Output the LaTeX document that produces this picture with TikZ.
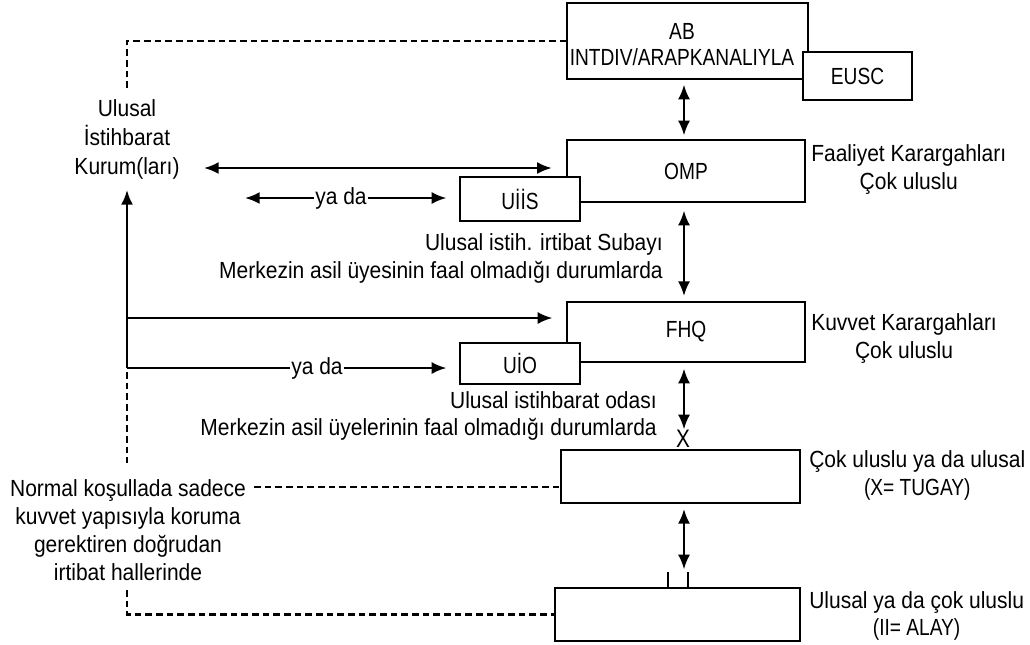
\documentclass[tikz,border=0pt]{standalone}
\usepackage{fontspec}
\setmainfont[FakeStretch=0.9]{Liberation Sans}
\newfontfamily\capsfont[FakeStretch=0.82]{Liberation Sans}
\usetikzlibrary{arrows.meta}
\begin{document}
\begin{tikzpicture}[x=0.75pt,y=-0.75pt,
  font=\fontsize{17.5}{20.5}\selectfont,
  box/.style={draw, fill=white, line width=0.9pt, inner sep=0pt, font=\capsfont\fontsize{17.5}{20.5}\selectfont},
  txt/.style={inner sep=0pt, align=center},
  captxt/.style={inner sep=0pt, align=center, font=\capsfont\fontsize{17.5}{19.5}\selectfont},
  ln/.style={line width=1.7pt},
  tip/.style={-{Latex[length=11pt,width=9pt]}},
  dbltip/.style={{Latex[length=11pt,width=9pt]}-{Latex[length=11pt,width=9pt]}},
  dsh/.style={line width=1.6pt, dash pattern=on 5pt off 3pt},
  tick/.style={line width=1.6pt}]
\useasboundingbox (0,0) rectangle (1030,644);
\path[fill=white] (0,0) rectangle (1030,644);

% boxes
\node[box, minimum width=180.75pt, minimum height=57pt] (ab) at (687.5,41) {};
\node[captxt] (abt) at (682,45) {AB\\INTDIV/ARAPKANALIYLA};
\node[box, minimum width=81.75pt, minimum height=36pt] (eusc) at (857.5,76) {EUSC};
\node[box, minimum width=178.5pt, minimum height=46.5pt] (omp) at (686,171) {OMP};
\node[box, minimum width=90pt, minimum height=33pt] (uiis) at (520,199) {UİİS};
\node[box, minimum width=178.5pt, minimum height=45pt] (fhq) at (686,332) {FHQ};
\node[box, minimum width=90pt, minimum height=30.75pt] (uio) at (520,363.5) {UİO};
\node[box, minimum width=179.25pt, minimum height=39.75pt] (cu) at (680.5,476.5) {};
\node[box, minimum width=183.75pt, minimum height=39.75pt] (bt) at (677.5,614.5) {};

% right labels
\node[txt, anchor=west] (l1) at (811,169.5) {Faaliyet Karargahları\\Çok uluslu};
\node[txt, anchor=west] (l2) at (811,338.5) {Kuvvet Karargahları\\Çok uluslu};
\node[txt, anchor=west] (l3) at (809,475.5) {Çok uluslu ya da ulusal\\{\capsfont(X= TUGAY)}};
\node[txt, anchor=west] (l4) at (809,616) {Ulusal ya da çok uluslu\\{\capsfont(II= ALAY)}};

% left labels
\node[txt, font=\fontsize{17.5}{21.75}\selectfont] (nik) at (127,139) {Ulusal\\İstihbarat\\Kurum(ları)};
\node[txt, font=\fontsize{17.5}{21}\selectfont] (nor) at (128,530) {Normal koşullada sadece\\kuvvet yapısıyla koruma\\gerektiren doğrudan\\irtibat hallerinde};

% centre labels
\node[txt, align=right, anchor=east] (ct1) at (663,258.5) {Ulusal istih. irtibat Subayı\\Merkezin asil üyesinin faal olmadığı durumlarda};
\node[txt, align=right, anchor=east] (ct2) at (657,416) {Ulusal istihbarat odası\\Merkezin asil üyelerinin faal olmadığı durumlarda};

% helper coordinates
\coordinate (vx) at (684,0);
\coordinate (k1) at (204,168);
\coordinate (y1l) at (245,198);
\coordinate (lt) at (127,190);
\coordinate (lb) at (127,368);
\coordinate (l318) at (127,318);
\coordinate (d1) at (127,88);
\coordinate (d2) at (127,463);
\coordinate (d3) at (254,487);
\coordinate (d4) at (127,590);

% "ya da" labels
\node[inner sep=1pt] (yd1) at (341,198) {ya da};
\node[inner sep=1pt] (yd2) at (317,368) {ya da};

% vertical arrows in the chain
\draw[ln, dbltip, shorten <=3.75pt, shorten >=3pt] (ab.south -| vx) -- (omp.north -| vx);
\draw[ln, dbltip, shorten <=6pt, shorten >=4pt] (omp.south -| vx) -- (fhq.north -| vx);
\draw[ln, dbltip, shorten <=4.5pt, shorten >=15pt] (fhq.south -| vx) -- (cu.north -| vx);
\draw[ln, dbltip, shorten <=4pt, shorten >=13.5pt] (cu.south -| vx) -- (bt.north -| vx);
\node[inner sep=0pt, font=\capsfont\fontsize{19}{20}\selectfont] (xm) at (683,439) {X};
\draw[tick] (668,572) -- (668,587);
\draw[tick] (688,572) -- (688,587);

% left connections
\draw[ln, dbltip, shorten >=11pt] (k1) -- (k1 -| omp.west);
\draw[ln, tip] (yd1.west) -- (y1l);
\draw[ln, tip, shorten >=9.75pt] (yd1.east) -- (yd1.east -| uiis.west);
\draw[ln, tip] (lb) -- (lt);
\draw[ln, tip, shorten >=10.5pt] (l318) -- (l318 -| fhq.west);
\draw[ln] (lb) -- (yd2.west);
\draw[ln, tip, shorten >=9.75pt] (yd2.east) -- (yd2.east -| uio.west);

% dashed connections
\draw[dsh] (d1) |- (ab.west);
\draw[dsh] ([yshift=-3pt]lb) -- (d2);
\draw[dsh] (d3) -- (d3 -| cu.west);
\draw[dsh] (d4) |- (bt.west);
\end{tikzpicture}
\end{document}
